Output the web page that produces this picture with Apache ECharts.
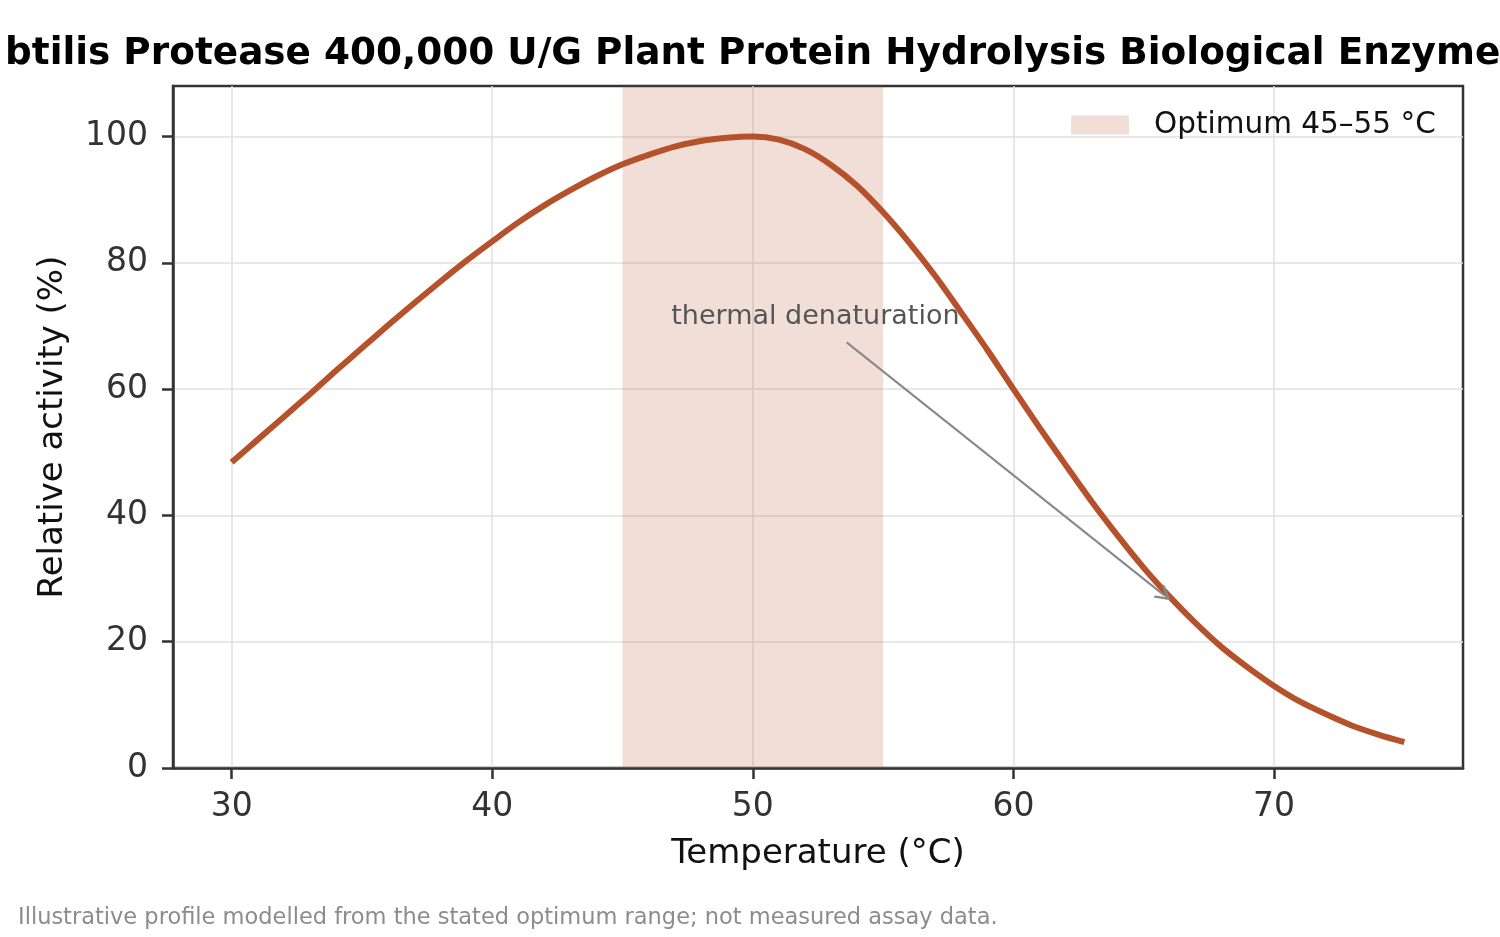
<!DOCTYPE html>
<html><head><meta charset="utf-8">
<script src="https://cdn.jsdelivr.net/npm/echarts@6/dist/echarts.min.js"></script>
<style>html,body{margin:0;padding:0;background:#fff}#c{width:1500px;height:937px}</style>
</head><body><div id="c"></div>
<script>
// ---- data ----
const temperatures = [30,31,32,33,34,35,36,37,38,39,40,41,42,43,44,45,46,47,48,49,50,
  51,52,53,54,55,56,57,58,59,60,61,62,63,64,65,66,67,68,69,70,71,72,73,74,75];
const activity = [48.4,52.0,55.6,59.2,62.9,66.5,70.1,73.6,77.0,80.3,83.4,86.4,89.1,91.5,93.7,95.6,97.1,98.4,99.3,99.8,100.0,
  99.5,98.0,95.5,92.2,88.0,83.2,77.9,72.1,66.2,60.0,53.9,48.0,42.2,36.8,31.7,27.1,22.9,19.1,15.9,13.0,10.5,8.5,6.7,5.3,4.1];
const xTicks = [30,40,50,60,70];
const yTicks = [0,20,40,60,80,100];
const optimumRange = [45,55];
const bandName = 'Optimum 45–55 °C';
const annotationText = 'thermal denaturation';
const annotationTextAt = [52.4, 71.5];
const annotationFrom = [53.6, 67.4];
const annotationTo = [65.8, 27.3];
const titleText = 'btilis Protease 400,000 U/G Plant Protein Hydrolysis Biological Enzyme';
const xName = 'Temperature (°C)';
const yName = 'Relative activity (%)';
const footnote = 'Illustrative profile modelled from the stated optimum range; not measured assay data.';

const FONT = 'DejaVu Sans';
const lineColor = '#b5522c';
const bandColor = 'rgba(181,82,44,0.19)';

const chart = echarts.init(document.getElementById('c'), null, {renderer: 'canvas'});
const pairs = temperatures.map((t, i) => [t, activity[i]]);

chart.setOption({
  animation: false,
  backgroundColor: '#fff',
  textStyle: {fontFamily: FONT},
  grid: {left: 173, right: 37, top: 86, bottom: 169, show: true,
         borderColor: '#333', borderWidth: 2.5, backgroundColor: 'transparent',
         containLabel: false, outerBoundsMode: 'none'},
  legend: {
    data: [bandName], left: 1071, top: 110, padding: 0,
    icon: 'rect', itemWidth: 58, itemHeight: 19,
    textStyle: {fontFamily: FONT, fontSize: 29.5, color: '#111', padding: [0,0,0,20]}
  },
  xAxis: {
    type: 'value', min: 27.75, max: 77.25,
    name: xName, nameLocation: 'middle', nameGap: 69,
    nameTextStyle: {fontFamily: FONT, fontSize: 34, color: '#111'},
    axisLine: {show: true, onZero: false, lineStyle: {color: '#333', width: 2.5}},
    axisTick: {show: true, customValues: xTicks, length: 11, lineStyle: {color: '#333', width: 2.5}},
    axisLabel: {customValues: xTicks, margin: 23, fontFamily: FONT, fontSize: 33, color: '#333'},
    splitLine: {show: true, lineStyle: {color: '#e0e0e0', width: 1.5}}
  },
  yAxis: {
    type: 'value', min: 0, max: 108,
    name: yName, nameLocation: 'middle', nameGap: 103,
    nameTextStyle: {fontFamily: FONT, fontSize: 34, color: '#111'},
    axisLine: {show: true, onZero: false, lineStyle: {color: '#333', width: 2.5}},
    axisTick: {show: true, customValues: yTicks, length: 11, lineStyle: {color: '#333', width: 2.5}},
    axisLabel: {customValues: yTicks, margin: 25, fontFamily: FONT, fontSize: 33, color: '#333'},
    splitLine: {show: true, lineStyle: {color: '#e0e0e0', width: 1.5}}
  },
  series: [
    {
      name: bandName, type: 'line', data: [],
      itemStyle: {color: bandColor}, lineStyle: {color: bandColor},
      markArea: {silent: true, itemStyle: {color: bandColor},
        data: [[{xAxis: optimumRange[0]}, {xAxis: optimumRange[1]}]]},
      z: 1
    },
    {
      name: 'activity', type: 'line', data: pairs, smooth: 0.3,
      showSymbol: false, lineStyle: {color: lineColor, width: 6}, itemStyle: {color: lineColor},
      z: 3,
      markLine: {
        silent: true, animation: false,
        lineStyle: {color: '#888', width: 2, type: 'solid'},
        label: {show: false},
        data: [[
          {coord: annotationFrom, symbol: 'none'},
          {coord: annotationTo, symbol: 'path://M5,0 L10,9 L8.4,9 L5,2.9 L1.6,9 L0,9 Z', symbolSize: [17, 15]}
        ]]
      },
      markPoint: {
        silent: true, symbol: 'circle', symbolSize: 0,
        label: {show: true, position: 'inside', formatter: annotationText,
                fontFamily: FONT, fontSize: 27, color: '#555'},
        data: [{coord: annotationTextAt}]
      }
    }
  ],
  graphic: [
    {type: 'text', left: 5, top: 36, style: {text: titleText, font: 'bold 37.4px "DejaVu Sans"', fill: '#000'}},
    {type: 'text', left: 18, top: 907, style: {text: footnote, font: '22.5px "DejaVu Sans"', fill: '#8c8c8c'}}
  ]
});
</script></body></html>
